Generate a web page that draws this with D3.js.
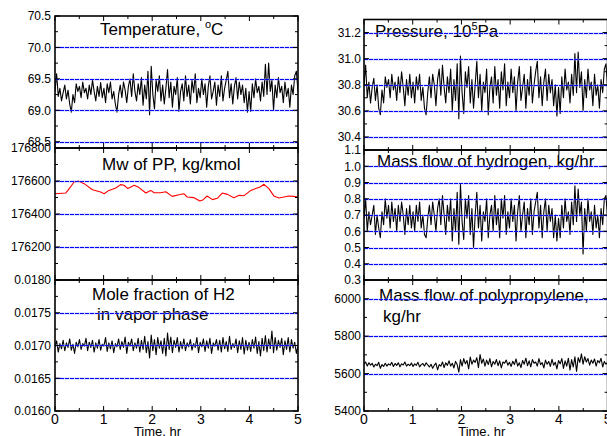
<!DOCTYPE html>
<html><head><meta charset="utf-8">
<script src="https://cdn.jsdelivr.net/npm/d3@7"></script>
<style>body{margin:0;background:#fff}svg{display:block}text{font-family:"Liberation Sans",Arial,sans-serif;fill:#000}</style>
</head><body><svg id="c" width="607" height="436"></svg>
<script>
// ---------- data ----------
const timeTicks = [0, 1, 2, 3, 4, 5];

const temperature = [
69.30,69.58,69.22,69.35,69.15,69.28,69.40,69.18,69.32,69.10,
68.97,69.25,69.12,69.42,69.30,69.38,69.20,69.45,69.28,69.35,
69.18,69.40,69.25,69.48,69.30,69.15,69.38,69.22,69.44,69.20,
69.35,69.12,69.42,69.28,69.45,69.18,69.30,69.10,68.97,69.25,
69.40,69.20,69.45,69.32,69.12,69.38,69.50,69.22,69.58,69.30,
69.15,69.42,69.25,69.52,69.08,69.40,69.18,69.62,68.93,69.70,
69.25,69.02,69.48,69.30,69.55,69.15,69.40,69.10,69.35,69.65,
69.20,69.45,69.05,69.38,69.25,69.52,68.98,69.30,69.42,69.15,
69.55,69.22,69.40,69.10,69.48,69.28,69.58,69.12,69.35,69.20,
69.50,69.25,69.42,69.05,69.38,69.55,69.18,69.30,69.45,69.08,
69.40,69.22,69.55,69.15,69.35,69.48,69.62,69.20,69.42,69.10,
69.38,69.52,69.18,69.45,69.25,69.40,69.12,69.35,68.97,69.30,
68.98,69.42,69.20,69.50,69.28,69.38,69.15,69.45,69.22,69.73,
69.25,69.75,69.30,69.48,69.00,69.40,69.20,69.52,69.28,69.38,
69.12,69.45,69.22,69.35,69.05,69.40,69.25,69.55,69.62,69.30];

const mwTime = [0,0.22,0.32,0.39,0.49,0.6,0.77,0.94,1.01,1.11,1.25,1.35,1.42,1.5,1.63,1.73,1.87,1.97,2.04,2.17,2.28,2.41,2.55,2.65,2.72,2.86,2.98,3.05,3.13,3.24,3.34,3.44,3.55,3.68,3.79,3.89,4.03,4.13,4.22,4.3,4.4,4.51,4.61,4.71,4.81,4.91,5];
const mwValues = [176523,176527,176564,176594,176599,176584,176547,176533,176523,176543,176558,176578,176574,176554,176574,176560,176527,176543,176529,176529,176535,176507,176517,176523,176503,176499,176479,176487,176509,176487,176495,176527,176519,176499,176513,176511,176543,176554,176564,176580,176554,176507,176497,176503,176509,176507,176503];

const h2Fraction = [
0.01698,0.01707,0.01690,0.01703,0.01695,0.01708,0.01692,0.01704,0.01697,0.01710,
0.01693,0.01702,0.01688,0.01705,0.01698,0.01709,0.01694,0.01703,0.01699,0.01711,
0.01692,0.01705,0.01697,0.01708,0.01690,0.01704,0.01696,0.01709,0.01693,0.01702,
0.01699,0.01712,0.01691,0.01704,0.01695,0.01707,0.01689,0.01703,0.01698,0.01710,
0.01694,0.01706,0.01697,0.01713,0.01688,0.01705,0.01699,0.01710,0.01692,0.01704,
0.01696,0.01711,0.01690,0.01708,0.01694,0.01714,0.01689,0.01706,0.01681,0.01716,
0.01692,0.01709,0.01686,0.01712,0.01696,0.01707,0.01688,0.01711,0.01684,0.01719,
0.01694,0.01713,0.01689,0.01708,0.01697,0.01712,0.01690,0.01706,0.01695,0.01710,
0.01692,0.01704,0.01698,0.01709,0.01693,0.01703,0.01697,0.01712,0.01689,0.01705,
0.01698,0.01710,0.01691,0.01707,0.01696,0.01711,0.01688,0.01704,0.01699,0.01709,
0.01693,0.01708,0.01690,0.01712,0.01695,0.01706,0.01691,0.01714,0.01694,0.01703,
0.01697,0.01710,0.01689,0.01707,0.01694,0.01712,0.01687,0.01708,0.01693,0.01705,
0.01691,0.01709,0.01696,0.01713,0.01688,0.01706,0.01684,0.01711,0.01692,0.01715,
0.01690,0.01710,0.01695,0.01722,0.01689,0.01712,0.01693,0.01708,0.01697,0.01711,
0.01686,0.01707,0.01694,0.01712,0.01690,0.01709,0.01696,0.01705,0.01688,0.01700];

const pressure = [
30.80,30.95,30.70,30.82,30.66,30.78,30.85,30.68,30.80,30.62,
30.57,30.76,30.66,30.86,30.78,30.84,30.70,30.88,30.76,30.82,
30.68,30.86,30.74,30.90,30.78,30.64,30.84,30.72,30.88,30.70,
30.82,30.66,30.86,30.76,30.88,30.68,30.78,30.62,30.57,30.74,
30.86,30.70,30.88,30.80,30.64,30.84,30.92,30.72,30.95,30.78,
30.66,30.86,30.74,30.92,30.60,30.84,30.68,30.96,30.54,31.02,
30.74,30.58,30.90,30.78,30.94,30.66,30.84,30.62,30.80,30.98,
30.70,30.88,30.60,30.82,30.74,30.92,30.57,30.78,30.86,30.66,
30.94,30.72,30.84,30.62,30.90,30.76,30.96,30.64,30.82,30.70,
30.92,30.74,30.86,30.60,30.82,30.94,30.68,30.78,30.88,30.62,
30.84,30.72,30.94,30.66,30.80,30.90,30.98,30.70,30.86,30.64,
30.82,30.92,30.68,30.88,30.74,30.84,30.64,30.80,30.56,30.78,
30.58,30.86,30.70,30.92,30.76,30.82,30.66,30.88,30.72,31.04,
30.74,31.05,30.78,30.90,30.60,30.84,30.70,30.92,30.76,30.82,
30.64,30.88,30.72,30.80,30.62,30.84,30.74,30.92,30.96,30.78];

const hydrogenFlow = [
0.68,0.80,0.60,0.72,0.64,0.70,0.76,0.58,0.70,0.62,
0.56,0.72,0.64,0.80,0.68,0.76,0.62,0.78,0.66,0.74,
0.60,0.76,0.66,0.78,0.70,0.58,0.74,0.64,0.76,0.62,
0.72,0.60,0.76,0.66,0.78,0.62,0.70,0.58,0.56,0.68,
0.76,0.64,0.78,0.70,0.60,0.74,0.80,0.64,0.82,0.70,
0.58,0.76,0.66,0.80,0.54,0.74,0.60,0.84,0.52,0.89,
0.66,0.55,0.80,0.68,0.82,0.58,0.74,0.50,0.70,0.84,
0.62,0.76,0.54,0.72,0.66,0.80,0.56,0.70,0.76,0.60,
0.82,0.64,0.74,0.56,0.80,0.68,0.82,0.58,0.72,0.62,
0.80,0.66,0.76,0.54,0.72,0.82,0.60,0.70,0.78,0.56,
0.74,0.64,0.80,0.58,0.72,0.78,0.84,0.62,0.76,0.56,
0.72,0.80,0.60,0.76,0.66,0.74,0.56,0.70,0.54,0.68,
0.56,0.76,0.62,0.80,0.66,0.72,0.58,0.78,0.64,0.88,
0.66,0.86,0.70,0.78,0.46,0.74,0.60,0.80,0.66,0.72,
0.58,0.76,0.62,0.70,0.56,0.74,0.64,0.80,0.82,0.68];

const ppFlow = [
5650,5662,5640,5658,5645,5655,5635,5650,5642,5660,
5628,5648,5638,5655,5640,5652,5645,5660,5638,5654,
5644,5658,5636,5652,5646,5662,5640,5650,5642,5656,
5638,5652,5644,5660,5636,5648,5654,5640,5658,5646,
5635,5650,5628,5645,5656,5620,5648,5640,5662,5632,
5658,5644,5668,5640,5655,5630,5665,5648,5608,5675,
5640,5680,5652,5670,5625,5688,5650,5672,5660,5685,
5632,5702,5655,5678,5640,5672,5648,5680,5636,5665,
5650,5675,5642,5668,5630,5662,5655,5672,5645,5660,
5638,5666,5648,5678,5640,5658,5632,5670,5650,5682,
5642,5668,5636,5675,5655,5662,5640,5680,5648,5658,
5630,5672,5650,5665,5638,5676,5645,5660,5625,5670,
5652,5680,5628,5668,5640,5682,5618,5675,5635,5690,
5612,5685,5660,5705,5650,5690,5662,5680,5645,5672,
5655,5678,5640,5670,5658,5682,5635,5665,5650,5660];

const tempLabels = [68.5, 69.0, 69.5, 70.0, 70.5];
const mwLabels = [176200, 176400, 176600, 176800];
const h2Labels = [0.0160, 0.0165, 0.0170, 0.0175, 0.0180];
const pressureLabels = [30.4, 30.6, 30.8, 31.0, 31.2];
const hydrogenLabels = [0.3, 0.4, 0.5, 0.6, 0.7, 0.8, 0.9, 1.0, 1.1];
const ppLabels = [5400, 5600, 5800, 6000];

// sampling time of the noisy series (regular, 0..5 hr)
const sampleTime = d3.range(temperature.length).map(i => i * 5 / (temperature.length - 1));

// ---------- layout ----------
const svg = d3.select('#c');
const cols = [{x0: 55, x1: 298, lab: 51}, {x0: 364, x1: 607.6, lab: 361}];

const panels = [
  {col:0, top:16, bottom:148, domain:[68.4,70.5], labels:tempLabels, grid:[68.5,69,69.5,70], minor:[68.75,69.25,69.75,70.25], fmt:'.1f', xs:sampleTime, ys:temperature, color:'#000',
   title:[{x:100,y:35,parts:[['Temperature, '],['o','sup'],['C']]}]},
  {col:0, top:148, bottom:280, domain:[176000,176800], labels:mwLabels, grid:[176200,176400,176600], minor:[176100,176300,176500,176700], fmt:'d', xs:mwTime, ys:mwValues, color:'#ff0000',
   title:[{x:102,y:170,parts:[['Mw of PP, kg/kmol']]}]},
  {col:0, top:280, bottom:411, domain:[0.0160,0.0180], labels:h2Labels, grid:[0.0165,0.0170,0.0175], minor:[0.01625,0.01675,0.01725,0.01775], fmt:'.4f', xs:sampleTime, ys:h2Fraction, color:'#000', xlabels:true,
   title:[{x:92,y:300,parts:[['Mole fraction of H2']]},{x:97,y:320,parts:[['in vapor phase']]}]},
  {col:1, top:19.5, bottom:150, domain:[30.3,31.3], labels:pressureLabels, grid:[30.4,30.6,30.8,31.0,31.2], minor:[30.5,30.7,30.9,31.1,31.3], fmt:'.1f', xs:sampleTime, ys:pressure, color:'#000',
   title:[{x:375,y:37,parts:[['Pressure, 10'],['5','sup'],['Pa']]}]},
  {col:1, top:150, bottom:280, domain:[0.3,1.1], labels:hydrogenLabels, grid:[0.4,0.5,0.6,0.7,0.8,0.9,1.0], minor:[], fmt:'.1f', xs:sampleTime, ys:hydrogenFlow, color:'#000',
   title:[{x:377,y:167,parts:[['Mass flow of hydrogen, kg/hr']]}]},
  {col:1, top:280, bottom:411, domain:[5400,6100], labels:ppLabels, grid:[5600,5800,6000], minor:[5500,5700,5900,6100], fmt:'d', xs:sampleTime, ys:ppFlow, color:'#000', xlabels:true,
   title:[{x:379,y:301,parts:[['Mass flow of polypropylene,']]},{x:383,y:322,parts:[['kg/hr']]}]}
];

const minorTime = [0.5, 1.5, 2.5, 3.5, 4.5];

panels.forEach((p, idx) => {
  const c = cols[p.col];
  const x = d3.scaleLinear().domain([0, 5]).range([c.x0, c.x1]);
  const y = d3.scaleLinear().domain(p.domain).range([p.bottom, p.top]);
  const g = svg.append('g');

  // titles
  p.title.forEach(t => {
    const tx = g.append('text').attr('x', t.x).attr('y', t.y).attr('font-size', 17);
    t.parts.forEach(([s, kind], i) => {
      const ts = tx.append('tspan').text(s);
      if (kind === 'sup') ts.attr('font-size', 11).attr('dy', -7);
      else if (i > 0 && t.parts[i-1][1] === 'sup') ts.attr('dy', 7);
    });
  });

  // series
  const clipId = 'clip' + idx;
  g.append('clipPath').attr('id', clipId).append('rect')
    .attr('x', c.x0).attr('y', p.top).attr('width', c.x1 - c.x0).attr('height', p.bottom - p.top);
  const line = d3.line().x((d, i) => x(p.xs[i])).y(d => y(d));
  g.append('path').datum(p.ys).attr('clip-path', `url(#${clipId})`)
    .attr('fill', 'none').attr('stroke', p.color).attr('stroke-width', 1.1)
    .attr('stroke-linejoin', 'round').attr('d', line);

  // grid lines: light blue halo + blue dashes
  g.selectAll('line.halo').data(p.grid).join('line').attr('class', 'halo')
    .attr('x1', c.x0).attr('x2', c.x1)
    .attr('y1', d => Math.round(y(d)) + 0.5).attr('y2', d => Math.round(y(d)) + 0.5)
    .attr('stroke', '#a0a0ff').attr('stroke-width', 2.2).attr('stroke-opacity', 0.55);
  g.selectAll('line.grid').data(p.grid).join('line').attr('class', 'grid')
    .attr('x1', c.x0).attr('x2', c.x1)
    .attr('y1', d => Math.round(y(d)) + 0.5).attr('y2', d => Math.round(y(d)) + 0.5)
    .attr('stroke', '#0000ff').attr('stroke-width', 1).attr('stroke-dasharray', '4,1');

  // frame
  g.append('rect').attr('x', c.x0).attr('y', p.top).attr('width', c.x1 - c.x0).attr('height', p.bottom - p.top)
    .attr('fill', 'none').attr('stroke', '#000').attr('stroke-width', 1.6);

  // inward ticks: y axis (left & right)
  const yMajor = p.labels.filter(v => v >= p.domain[0] && v <= p.domain[1]);
  const tickSet = [...yMajor.map(v => ({v, len: 5})), ...p.minor.map(v => ({v, len: 3}))];
  tickSet.forEach(t => {
    const yy = y(t.v);
    g.append('line').attr('x1', c.x0).attr('x2', c.x0 + t.len).attr('y1', yy).attr('y2', yy).attr('stroke', '#000');
    g.append('line').attr('x1', c.x1).attr('x2', c.x1 - t.len).attr('y1', yy).attr('y2', yy).attr('stroke', '#000');
  });
  // inward ticks: x (top & bottom)
  const xTickSet = [...timeTicks.map(v => ({v, len: 5})), ...minorTime.map(v => ({v, len: 3}))];
  xTickSet.forEach(t => {
    const xx = x(t.v);
    g.append('line').attr('x1', xx).attr('x2', xx).attr('y1', p.bottom).attr('y2', p.bottom - t.len).attr('stroke', '#000');
    g.append('line').attr('x1', xx).attr('x2', xx).attr('y1', p.top).attr('y2', p.top + t.len).attr('stroke', '#000');
  });

  // y labels
  const fmt = d3.format(p.fmt);
  g.selectAll('text.ylab').data(p.labels).join('text').attr('class', 'ylab')
    .attr('x', c.lab).attr('y', d => y(d)).attr('dy', '0.36em')
    .attr('text-anchor', 'end').attr('font-size', 12).text(d => fmt(d));

  // x labels
  if (p.xlabels) {
    g.selectAll('text.xlab').data(timeTicks).join('text').attr('class', 'xlab')
      .attr('x', d => x(d)).attr('y', 424).attr('text-anchor', 'middle')
      .attr('font-size', 14).text(d => d);
    g.append('text').attr('x', (c.x0 + c.x1) / 2 + (p.col === 0 ? -19 : -4)).attr('y', 436)
      .attr('text-anchor', 'middle').attr('font-size', 13).text('Time, hr');
  }
});
</script>
</body></html>
